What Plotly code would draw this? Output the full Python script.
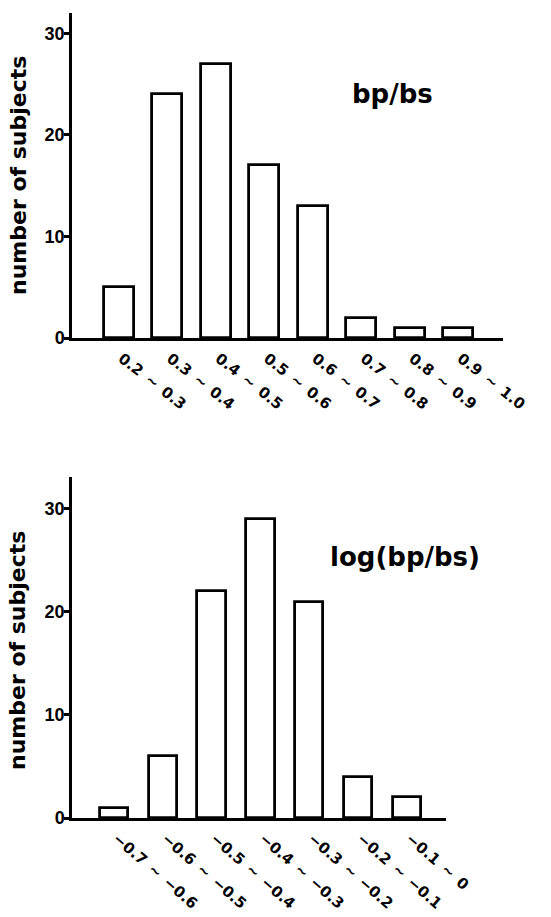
import plotly.graph_objects as go

# ---- data ----
top_labels = ["0.2 ~ 0.3", "0.3 ~ 0.4", "0.4 ~ 0.5", "0.5 ~ 0.6",
              "0.6 ~ 0.7", "0.7 ~ 0.8", "0.8 ~ 0.9", "0.9 ~ 1.0"]
top_counts = [5, 24, 27, 17, 13, 2, 1, 1]

bot_labels = ["\u22120.7 ~ \u22120.6", "\u22120.6 ~ \u22120.5", "\u22120.5 ~ \u22120.4",
              "\u22120.4 ~ \u22120.3", "\u22120.3 ~ \u22120.2", "\u22120.2 ~ \u22120.1",
              "\u22120.1 ~ 0"]
bot_counts = [1, 6, 22, 29, 21, 4, 2]

y_ticks = [0, 10, 20, 30]
y_title = "number of subjects"
top_name = "bp/bs"
bot_name = "log(bp/bs)"

W, H = 551, 917


def px_x(p):
    return p / W


def px_y(p):
    return 1 - p / H


def spaced(s):
    return s.replace(" ", "\u2002")


fig = go.Figure()
fig.add_trace(go.Bar(x=list(range(len(top_counts))), y=top_counts, width=0.62,
                     marker=dict(color="white", line=dict(color="black", width=2.8)),
                     xaxis="x", yaxis="y", showlegend=False))
fig.add_trace(go.Bar(x=list(range(len(bot_counts))), y=bot_counts, width=0.58,
                     marker=dict(color="white", line=dict(color="black", width=2.8)),
                     xaxis="x2", yaxis="y2", showlegend=False))

xcommon = dict(showline=True, linecolor="black", linewidth=3, showgrid=False,
               zeroline=False, ticks="", automargin=False,
               tickfont=dict(family="DejaVu Sans", size=15, color="black", weight="bold"))
ycommon = dict(showline=True, linecolor="black", linewidth=2.5, showgrid=False,
               zeroline=False, ticks="outside", ticklen=5, tickwidth=2.5, tickcolor="black",
               automargin=False, ticklabelstandoff=-4,
               tickvals=y_ticks, ticktext=[str(v) for v in y_ticks],
               tickfont=dict(family="Liberation Sans", size=18, color="black", weight="bold"))

fig.update_layout(
    width=W, height=H, margin=dict(l=0, r=0, t=0, b=0),
    plot_bgcolor="white", paper_bgcolor="white", bargap=0,
    xaxis=dict(domain=[px_x(72), px_x(503)], range=[-0.97, 7.93], anchor="y",
               tickvals=list(range(len(top_labels))),
               ticktext=[spaced(t) for t in top_labels], tickangle=38,
               ticklabelshift=3, ticklabelstandoff=3, **xcommon),
    yaxis=dict(domain=[px_y(338), px_y(13)], range=[0, 32], anchor="x", **ycommon),
    xaxis2=dict(domain=[px_x(72), px_x(446)], range=[-0.86, 6.80], anchor="y2",
                tickvals=list(range(len(bot_labels))),
                ticktext=[spaced(t) for t in bot_labels], tickangle=41,
                ticklabelshift=3, ticklabelstandoff=3, **xcommon),
    yaxis2=dict(domain=[px_y(818), px_y(477)], range=[0, 33.1], anchor="x2", **ycommon),
)

title_font = dict(family="DejaVu Sans", size=22, color="black", weight="bold")
name_font = dict(family="DejaVu Sans", size=26, color="black", weight="bold")
fig.add_annotation(text=y_title, textangle=-90, x=px_x(19), y=px_y(176),
                   xref="paper", yref="paper", showarrow=False, font=title_font,
                   xanchor="center", yanchor="middle")
fig.add_annotation(text=y_title, textangle=-90, x=px_x(17), y=px_y(651),
                   xref="paper", yref="paper", showarrow=False, font=title_font,
                   xanchor="center", yanchor="middle")
fig.add_annotation(text=top_name, x=px_x(392), y=px_y(94), xref="paper", yref="paper",
                   showarrow=False, font=name_font, xanchor="center", yanchor="middle")
fig.add_annotation(text=bot_name, x=px_x(405), y=px_y(557), xref="paper", yref="paper",
                   showarrow=False, font=name_font, xanchor="center", yanchor="middle")

fig.write_html("out.html")
